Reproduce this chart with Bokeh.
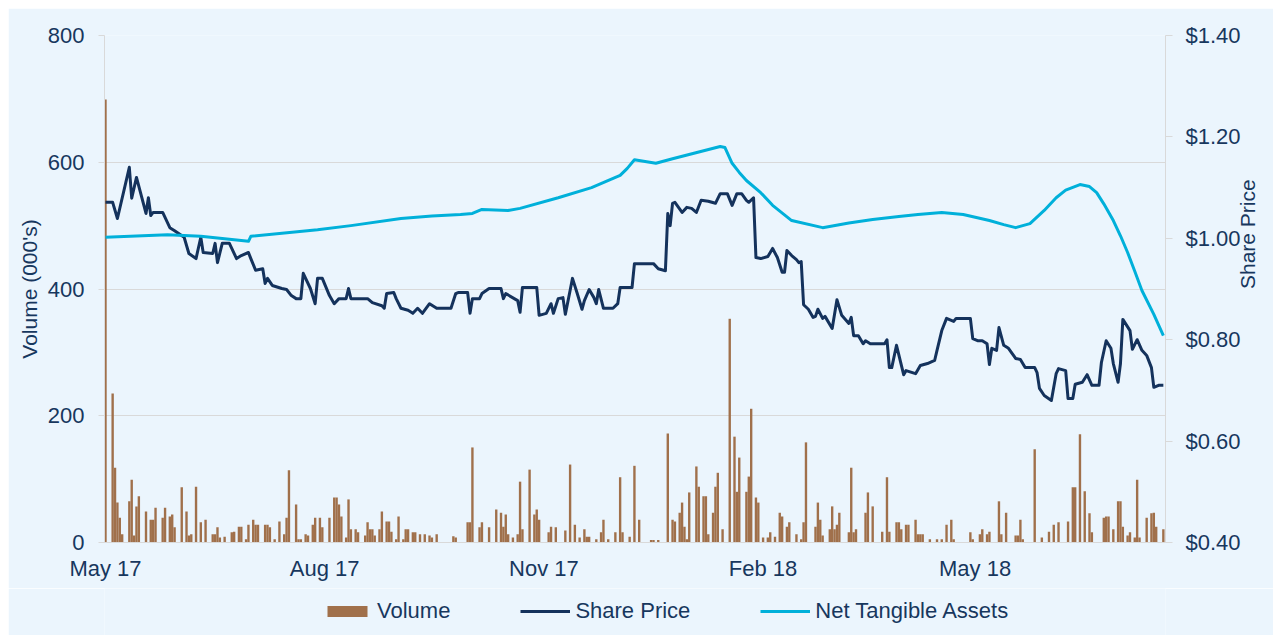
import numpy as np
import pandas as pd
from bokeh.plotting import figure
from bokeh.layouts import column, row
from bokeh.models import (Range1d, LinearAxis, FixedTicker, NumeralTickFormatter,
                          DatetimeTickFormatter, Legend, LegendItem, Spacer)
from bokeh.embed import file_html
from bokeh.resources import INLINE

# ---------------- data (day offsets from 1 May 2017) ----------------
START_DATE = "2017-05-01"

price_day = [0, 3, 5, 10, 11, 13, 17, 18, 19, 20, 24, 27, 29, 33, 35, 38, 40, 41, 45, 46, 47, 49, 52, 55, 57, 60,
             61, 63, 66, 67, 68, 70, 74, 76, 78, 80, 82, 83, 86, 88, 89, 91, 94, 96, 98, 101, 102, 103, 110, 112,
             116, 117, 118, 121, 122, 124, 127, 129, 131, 133, 136, 139, 145, 147, 148, 152, 153, 154, 157, 158,
             161, 166, 167, 168, 173, 174, 175, 181, 182, 185, 187, 188, 190, 192, 193, 195, 196, 198, 200, 201,
             203, 205, 206, 207, 209, 213, 215, 216, 221, 222, 230, 232, 235, 236, 237, 238, 239, 242, 244, 246,
             248, 250, 253, 256, 258, 261, 263, 265, 267, 269, 270, 272, 273, 275, 278, 280, 282, 284, 285, 286,
             288, 290, 291, 292, 293, 295, 297, 298, 299, 301, 302, 305, 307, 309, 312, 313, 314, 316, 318, 319,
             321, 327, 328, 329, 330, 332, 335, 336, 340, 342, 345, 348, 349, 351, 353, 356, 357, 363, 364, 366,
             368, 370, 371, 372, 374, 375, 377, 379, 382, 384, 386, 390, 391, 392, 394, 397, 399, 400, 403, 404,
             406, 407, 410, 412, 414, 417, 418, 420, 422, 423, 425, 426, 427, 430, 431, 433, 435, 437, 439, 440,
             442, 444]
price_val = [1.071, 1.071, 1.039, 1.140, 1.079, 1.120, 1.049, 1.080, 1.045, 1.051, 1.051, 1.021, 1.015, 1.002,
             0.970, 0.960, 1.002, 0.972, 0.970, 0.990, 0.952, 0.990, 0.990, 0.960, 0.966, 0.972, 0.960, 0.937,
             0.940, 0.911, 0.921, 0.907, 0.901, 0.899, 0.887, 0.881, 0.881, 0.931, 0.901, 0.871, 0.921, 0.921,
             0.887, 0.871, 0.881, 0.881, 0.901, 0.881, 0.881, 0.873, 0.867, 0.862, 0.891, 0.893, 0.881, 0.862,
             0.858, 0.852, 0.862, 0.852, 0.871, 0.862, 0.862, 0.891, 0.893, 0.893, 0.852, 0.881, 0.881, 0.891,
             0.901, 0.901, 0.881, 0.891, 0.877, 0.854, 0.903, 0.903, 0.848, 0.852, 0.871, 0.852, 0.881, 0.883,
             0.850, 0.897, 0.921, 0.891, 0.860, 0.877, 0.899, 0.883, 0.871, 0.899, 0.862, 0.862, 0.871, 0.903,
             0.903, 0.950, 0.950, 0.940, 0.936, 1.049, 1.025, 1.069, 1.071, 1.051, 1.061, 1.059, 1.051, 1.075,
             1.073, 1.069, 1.088, 1.088, 1.065, 1.088, 1.088, 1.075, 1.071, 1.080, 0.962, 0.960, 0.964, 0.980,
             0.962, 0.933, 0.933, 0.976, 0.966, 0.958, 0.952, 0.954, 0.869, 0.860, 0.844, 0.846, 0.860, 0.842,
             0.846, 0.822, 0.879, 0.848, 0.832, 0.844, 0.808, 0.808, 0.792, 0.798, 0.792, 0.792, 0.800, 0.745,
             0.745, 0.789, 0.731, 0.739, 0.733, 0.749, 0.753, 0.759, 0.779, 0.818, 0.842, 0.836, 0.842, 0.842,
             0.802, 0.798, 0.798, 0.792, 0.751, 0.783, 0.779, 0.824, 0.789, 0.783, 0.763, 0.761, 0.745, 0.745,
             0.735, 0.704, 0.690, 0.680, 0.733, 0.743, 0.739, 0.684, 0.684, 0.712, 0.716, 0.731, 0.710, 0.710,
             0.755, 0.798, 0.783, 0.753, 0.716, 0.753, 0.840, 0.818, 0.781, 0.800, 0.779, 0.769, 0.745, 0.706,
             0.710, 0.710]

nta_day = [0, 26, 40, 60, 61, 89, 103, 124, 137, 149, 154, 158, 169, 174, 190, 204, 216, 219, 222, 231, 238,
           258, 260, 263, 266, 269, 275, 280, 288, 301, 312, 322, 333, 341, 351, 360, 371, 377, 382, 388, 394,
           399, 403, 409, 413, 416, 419, 423, 426, 429, 432, 435, 440, 444]
nta_val = [1.002, 1.007, 1.004, 0.994, 1.004, 1.017, 1.025, 1.039, 1.044, 1.047, 1.049, 1.057, 1.055, 1.059,
           1.080, 1.100, 1.124, 1.138, 1.155, 1.148, 1.157, 1.181, 1.179, 1.148, 1.130, 1.114, 1.090, 1.065,
           1.035, 1.021, 1.030, 1.037, 1.043, 1.047, 1.051, 1.047, 1.035, 1.027, 1.021, 1.029, 1.055, 1.080,
           1.095, 1.106, 1.102, 1.090, 1.068, 1.035, 1.005, 0.972, 0.935, 0.897, 0.850, 0.808]

vol_day = [0, 3, 4, 5, 6, 7, 10, 11, 12, 13, 14, 17, 19, 20, 21, 24, 25, 27, 28, 29, 32, 34, 35, 36, 38, 40, 42,
           45, 46, 47, 48, 50, 53, 54, 56, 57, 59, 60, 62, 63, 64, 67, 68, 69, 71, 73, 75, 76, 77, 80, 81, 82, 84,
           85, 87, 88, 90, 91, 94, 96, 97, 98, 99, 101, 102, 103, 105, 106, 109, 110, 111, 112, 113, 115, 116, 118,
           119, 120, 122, 123, 125, 126, 127, 129, 130, 132, 134, 136, 137, 139, 146, 147, 152, 153, 154, 157, 158,
           161, 164, 166, 167, 168, 169, 171, 173, 174, 175, 178, 180, 181, 182, 186, 187, 189, 193, 195, 197, 199,
           201, 202, 203, 206, 208, 209, 211, 214, 216, 217, 220, 222, 224, 229, 230, 232, 236, 238, 239, 241, 242,
           243, 244, 245, 248, 249, 251, 252, 253, 255, 256, 257, 259, 262, 264, 265, 266, 269, 270, 271, 273, 274,
           276, 278, 279, 281, 283, 284, 286, 287, 290, 292, 293, 294, 298, 299, 300, 301, 304, 305, 306, 307, 308,
           312, 313, 314, 315, 319, 320, 322, 326, 328, 329, 332, 333, 334, 336, 337, 340, 341, 342, 343, 346, 349,
           351, 353, 355, 356, 363, 364, 367, 368, 370, 371, 375, 376, 378, 382, 383, 384, 385, 390, 393, 396, 398,
           400, 404, 406, 407, 409, 411, 413, 414, 419, 420, 421, 423, 425, 426, 427, 429, 430, 432, 433, 434, 437,
           439, 440, 441, 444]
vol_val = [699, 235, 118, 63, 39, 13, 65, 99, 11, 57, 73, 49, 36, 36, 55, 39, 55, 41, 44, 24, 87, 49, 11, 13, 88,
           32, 36, 13, 13, 24, 8, 9, 16, 17, 25, 25, 5, 28, 36, 28, 28, 28, 28, 24, 5, 33, 13, 39, 114, 60, 5, 5,
           13, 11, 28, 39, 39, 24, 39, 71, 71, 60, 41, 8, 68, 21, 21, 16, 11, 32, 21, 21, 11, 21, 49, 33, 33, 17, 5,
           41, 5, 21, 21, 16, 16, 13, 13, 11, 8, 13, 10, 8, 32, 32, 150, 24, 32, 24, 52, 47, 25, 44, 13, 8, 13, 96,
           21, 115, 44, 52, 36, 16, 25, 24, 19, 123, 28, 8, 21, 9, 9, 5, 16, 36, 5, 16, 103, 16, 9, 121, 36, 4, 4,
           4, 172, 36, 33, 47, 63, 25, 5, 79, 120, 88, 73, 73, 13, 47, 88, 110, 21, 353, 167, 80, 134, 80, 104,
           211, 71, 63, 8, 8, 16, 9, 47, 41, 25, 32, 13, 5, 32, 158, 25, 63, 36, 11, 21, 57, 21, 28, 47, 16, 118,
           16, 21, 47, 79, 57, 17, 103, 17, 32, 32, 21, 28, 28, 36, 13, 13, 13, 5, 5, 5, 28, 36, 5, 16, 5, 13, 21,
           13, 17, 65, 13, 47, 11, 11, 36, 5, 147, 8, 17, 28, 32, 33, 87, 87, 171, 81, 46, 16, 39, 41, 41, 21, 65,
           65, 25, 11, 16, 8, 99, 8, 39, 46, 47, 25, 21]

tick_dates = ["2017-05-01", "2017-08-01", "2017-11-01", "2018-02-01", "2018-05-01"]
vol_ticks = [0, 200, 400, 600, 800]
price_ticks = [0.40, 0.60, 0.80, 1.00, 1.20, 1.40]
series_names = ["Volume", "Share Price", "Net Tangible Assets"]

# ---------------- helpers ----------------
start = pd.Timestamp(START_DATE)
DAY_MS = 86400000.0
start_ms = start.value / 1e6


def to_ms(days):
    return [start_ms + d * DAY_MS for d in days]


BG = "#EBF5FD"
TXT = "#17375E"
GRID = "#D9D9D9"
BAR = "#A0704B"
NAVY = "#14325C"
CYAN = "#00B0DA"
FONT = "Liberation Sans"

W = 1265
p = figure(width=W, height=580, x_axis_type="datetime",
           x_range=Range1d(start_ms - 0.42 * DAY_MS, start_ms + 444.9 * DAY_MS),
           y_range=Range1d(0, 800),
           output_backend="svg", toolbar_location=None,
           min_border_left=96, min_border_right=107, min_border_top=27, min_border_bottom=46)
p.background_fill_color = BG
p.border_fill_color = BG
p.outline_line_color = None
p.extra_y_ranges = {"price": Range1d(0.40, 1.40)}

p.vbar(x=to_ms(vol_day), top=vol_val, width=1.0 * DAY_MS, bottom=0,
       fill_color=BAR, line_color=None)
p.line(to_ms(price_day), price_val, y_range_name="price",
       line_color=NAVY, line_width=3, line_join="round")
p.line(to_ms(nta_day), nta_val, y_range_name="price",
       line_color=CYAN, line_width=3, line_join="round")

# grid
p.xgrid.grid_line_color = None
p.ygrid.grid_line_color = GRID
p.ygrid.grid_line_width = 1

# x axis
xa = p.xaxis[0]
xa.ticker = FixedTicker(ticks=[pd.Timestamp(d).value / 1e6 for d in tick_dates])
xa.formatter = DatetimeTickFormatter(days="%b %y", months="%b %y", years="%b %y",
                                     hours="%b %y", minutes="%b %y")
xa.axis_line_color = GRID
xa.major_tick_line_color = None
xa.minor_tick_line_color = None
xa.major_tick_out = 0
xa.major_label_standoff = 13
xa.major_label_text_font = FONT
xa.major_label_text_font_size = "22px"
xa.major_label_text_color = TXT

# left axis
ya = p.yaxis[0]
ya.ticker = FixedTicker(ticks=vol_ticks)
ya.axis_label = "Volume (000's)"
ya.axis_label_text_font = FONT
ya.axis_label_text_font_size = "21px"
ya.axis_label_text_font_style = "normal"
ya.axis_label_text_color = TXT
ya.axis_label_standoff = 4
ya.axis_line_color = GRID
ya.major_tick_line_color = GRID
ya.major_tick_out = 6
ya.major_tick_in = 0
ya.minor_tick_line_color = None
ya.major_label_standoff = 14
ya.major_label_text_font = FONT
ya.major_label_text_font_size = "22px"
ya.major_label_text_color = TXT

# right axis
ra = LinearAxis(y_range_name="price", ticker=FixedTicker(ticks=price_ticks),
                formatter=NumeralTickFormatter(format="$0.00"))
ra.axis_line_color = GRID
ra.major_tick_line_color = GRID
ra.major_tick_out = 7
ra.major_tick_in = 0
ra.minor_tick_line_color = None
ra.major_label_standoff = 13
ra.major_label_text_font = FONT
ra.major_label_text_font_size = "22px"
ra.major_label_text_color = TXT
ra.axis_label = "Share Price"
ra.axis_label_text_font = FONT
ra.axis_label_text_font_size = "21px"
ra.axis_label_text_font_style = "normal"
ra.axis_label_text_color = TXT
ra.axis_label_standoff = 4
if hasattr(ra, "axis_label_orientation"):
    ra.axis_label_orientation = np.pi / 2
p.add_layout(ra, "right")

# ---------------- legend strip ----------------
lg = figure(width=W, height=47, output_backend="svg", toolbar_location=None,
            x_range=Range1d(0, 1), y_range=Range1d(0, 1),
            x_axis_location=None, y_axis_location=None, min_border=0)
lg.background_fill_color = BG
lg.border_fill_color = BG
lg.outline_line_color = None
lg.grid.grid_line_color = None
# legend-only renderers, placed outside the visible range
r_bar = lg.vbar(x=[-5], top=[-4], bottom=[-5], width=0.1, fill_color=BAR, line_color=None)
r_price = lg.line(x=[-5, -4], y=[-5, -5], line_color=NAVY, line_width=3)
r_nta = lg.line(x=[-5, -4], y=[-5, -5], line_color=CYAN, line_width=3)
legend = Legend(items=[LegendItem(label=series_names[0], renderers=[r_bar]),
                       LegendItem(label=series_names[1], renderers=[r_price]),
                       LegendItem(label=series_names[2], renderers=[r_nta])],
                orientation="horizontal", location=(218, 11),
                glyph_width=50, glyph_height=14, label_height=24, label_standoff=5,
                spacing=70, padding=0, margin=0,
                label_text_font=FONT, label_text_font_size="22px", label_text_color=TXT,
                background_fill_alpha=0, border_line_color=None)
lg.add_layout(legend, "center")

layout = column(Spacer(height=8, width=W + 8),
                row(Spacer(width=8, height=627), column(p, lg, spacing=0), spacing=0),
                spacing=0)

open("out.html", "w").write(file_html(layout, INLINE))
